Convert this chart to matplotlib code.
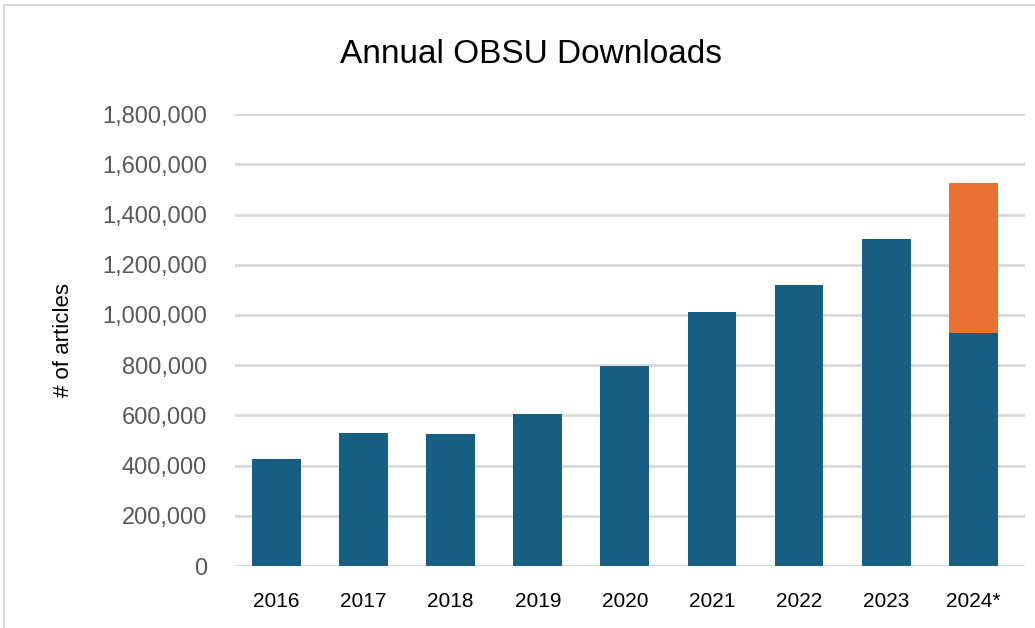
import matplotlib.pyplot as plt
from matplotlib.lines import Line2D
from matplotlib.ticker import FuncFormatter

years = ['2016', '2017', '2018', '2019', '2020', '2021', '2022', '2023', '2024*']
downloads = [426000, 530000, 526000, 605000, 796000, 1011000, 1119000, 1302000, 928000]
projected = [0, 0, 0, 0, 0, 0, 0, 0, 597000]

blue = '#165f82'
orange = '#e97132'

plt.rcParams['font.family'] = ['Liberation Sans', 'DejaVu Sans']

fig = plt.figure(figsize=(10.35, 6.28), dpi=100)
ax = fig.add_axes([0.227, 0.0987, 0.763, 0.7195])

x = range(len(years))
ax.bar(x, downloads, width=0.56, color=blue, zorder=3)
ax.bar(x, projected, width=0.56, bottom=downloads, color=orange, zorder=3)

ax.set_xlim(-0.477, 8.59)
ax.set_ylim(0, 1800000)
ax.set_yticks(range(0, 1800001, 200000))
ax.yaxis.set_major_formatter(FuncFormatter(lambda v, p: f'{int(v):,}'))
ax.set_xticks(list(x))
ax.set_xticklabels(years)
ax.grid(axis='y', color='#d9d9d9', linewidth=2, zorder=0)
for s in ax.spines.values():
    s.set_visible(False)
ax.tick_params(axis='both', length=0)
ax.tick_params(axis='y', labelsize=17, labelcolor='#595959', pad=20)
ax.tick_params(axis='x', labelsize=15, labelcolor='#000000', pad=19)
ax.set_ylabel('# of articles', fontsize=16, labelpad=20)

fig.text(0.513, 0.913, 'Annual OBSU Downloads', ha='center', va='center', fontsize=24)

# outer chart frame (top and left edges visible)
fig.add_artist(Line2D([4/1035, 1], [1 - 5/628, 1 - 5/628], color='#d9d9d9', lw=1.5))
fig.add_artist(Line2D([4/1035, 4/1035], [0, 1 - 5/628], color='#d9d9d9', lw=1.5))

fig.savefig('out.png', dpi=100)
